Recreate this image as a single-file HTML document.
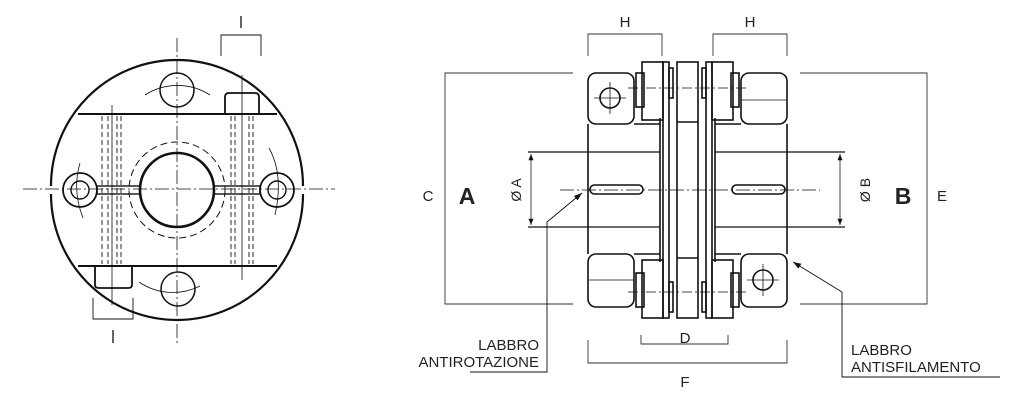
<!DOCTYPE html>
<html><head><style>
html,body{margin:0;padding:0;background:#fff;}
svg{display:block;}
text{font-family:"Liberation Sans",sans-serif;fill:#222;}
</style></head><body>
<svg width="1024" height="401" viewBox="0 0 1024 401" xmlns="http://www.w3.org/2000/svg">
<defs>
<marker id="ar" viewBox="0 0 10 10" refX="10" refY="5" markerWidth="7" markerHeight="7" orient="auto-start-reverse"><path d="M0,1 L10,5 L0,9 z" fill="#111"/></marker>
<marker id="ab" viewBox="0 0 10 10" refX="10" refY="5" markerWidth="9" markerHeight="9" orient="auto"><path d="M0,1.5 L10,5 L0,8.5 z" fill="#111"/></marker>
</defs>

<!-- LEFT VIEW -->
<g fill="none" stroke="#111">
 <line x1="177" y1="38" x2="177" y2="345" stroke-width="0.8" stroke-dasharray="14,3,2,3"/>
 <line x1="23" y1="189" x2="335" y2="189" stroke-width="0.8" stroke-dasharray="14,3,2,3"/>
 <path d="M51,186 A126,126 0 1 1 303,186 M51,194 A126,126 0 1 0 303,194" stroke-width="2.2"/>
 <line x1="78" y1="114" x2="277" y2="114" stroke-width="2"/>
 <line x1="78" y1="266" x2="277" y2="266" stroke-width="2"/>
 <circle cx="177" cy="190" r="37" stroke-width="2.6"/>
 <circle cx="177" cy="190" r="48" stroke-width="1" stroke-dasharray="7,4"/>
 <circle cx="177" cy="90" r="17" stroke-width="1.5"/>
 <circle cx="178" cy="289" r="17" stroke-width="1.5"/>
 <circle cx="80" cy="190" r="17" stroke-width="1.8"/>
 <circle cx="80" cy="190" r="9" stroke-width="1.4"/>
 <circle cx="277" cy="190" r="17" stroke-width="1.8"/>
 <circle cx="277" cy="190" r="9" stroke-width="1.4"/>
 <rect x="97" y="186" width="43" height="8" stroke-width="1.4"/>
 <rect x="214" y="186" width="46" height="8" stroke-width="1.4"/>
 <path d="M225,113 V97 Q225,93 229,93 H255 Q259,93 259,97 V113" stroke-width="1.8"/>
 <path d="M95,267 V285 Q95,288 99,288 H128 Q132,288 132,285 V267" stroke-width="1.8"/>
 <g stroke-width="0.9" stroke-dasharray="5,3">
  <line x1="102" y1="116" x2="102" y2="264"/><line x1="108" y1="116" x2="108" y2="264"/>
  <line x1="117" y1="116" x2="117" y2="264"/><line x1="121" y1="116" x2="121" y2="264"/>
  <line x1="231" y1="116" x2="231" y2="264"/><line x1="235" y1="116" x2="235" y2="264"/>
  <line x1="249" y1="116" x2="249" y2="264"/><line x1="253" y1="116" x2="253" y2="264"/>
 </g>
 <line x1="242" y1="75" x2="242" y2="280" stroke-width="0.8"/>
 <line x1="112" y1="105" x2="112" y2="305" stroke-width="0.8"/>
 <path d="M145,95 A60,60 0 0 1 210,95 M139,282 A60,60 0 0 0 200,286 M80,163 Q72,190 83,218 M269,148 Q284,175 275,215" stroke-width="0.8"/>
 <path d="M221,56 V35 H261 V56 M93,298 V319 H133 V298" stroke-width="0.9"/>
 <line x1="241" y1="16" x2="241" y2="28" stroke-width="1.3"/>
 <line x1="113" y1="330" x2="113" y2="343" stroke-width="1.3"/>
</g>

<!-- RIGHT VIEW: dimensions -->
<g fill="none" stroke="#333" stroke-width="0.9">
 <path d="M588,56 V34 H662 V56 M713,56 V34 H787 V56"/>
 <path d="M573,73 H445 V304 H573"/>
 <path d="M800,73 H927 V304 H800"/>
 <path d="M641,335 V344 H728 V335"/>
 <path d="M588,340 V363 H787 V340"/>
 <line x1="531" y1="154" x2="531" y2="225" marker-start="url(#ar)" marker-end="url(#ar)"/>
 <line x1="840" y1="154" x2="840" y2="225" marker-start="url(#ar)" marker-end="url(#ar)"/>
 <path d="M470,372 H547 V222 L582,193" stroke="#111" marker-end="url(#ab)"/>
 <path d="M1000,377 H842 V292 L793,262" stroke="#111" marker-end="url(#ab)"/>
</g>
<g fill="none" stroke="#111" stroke-width="1.2">
 <line x1="528" y1="152" x2="660" y2="152"/>
 <line x1="528" y1="227" x2="660" y2="227"/>
 <line x1="715" y1="152" x2="845" y2="152"/>
 <line x1="715" y1="227" x2="845" y2="227"/>
 <line x1="560" y1="190" x2="820" y2="190" stroke-width="0.7" stroke-dasharray="14,3,2,3"/>
</g>

<g fill="none" stroke="#111" stroke-width="1.6">
 <rect x="588" y="73" width="46" height="51" rx="8"/>
 <rect x="588" y="254" width="46" height="53" rx="8"/>
 <line x1="588" y1="124" x2="588" y2="254"/>
 <line x1="660" y1="118" x2="660" y2="262"/>
 <line x1="634" y1="124" x2="660" y2="124"/>
 <line x1="634" y1="254" x2="660" y2="254"/>
 <rect x="642" y="62" width="21" height="58"/>
 <rect x="642" y="260" width="21" height="58"/>
 <rect x="636" y="73" width="8" height="34"/>
 <rect x="636" y="273" width="8" height="34"/>
 <rect x="663" y="62" width="6" height="256"/>
 <rect x="669" y="68" width="4" height="30"/>
 <rect x="669" y="282" width="4" height="30"/>
 <rect x="590" y="185" width="53" height="9" rx="4.5"/>
 <circle cx="610" cy="98" r="10"/>
 <rect x="677" y="62" width="21" height="256"/>
 <line x1="677" y1="122" x2="698" y2="122"/>
 <line x1="677" y1="258" x2="698" y2="258"/>
 <rect x="741" y="73" width="46" height="51" rx="8"/>
 <rect x="741" y="254" width="46" height="53" rx="8"/>
 <line x1="787" y1="124" x2="787" y2="254"/>
 <line x1="715" y1="118" x2="715" y2="262"/>
 <line x1="715" y1="124" x2="741" y2="124"/>
 <line x1="715" y1="254" x2="741" y2="254"/>
 <rect x="712" y="62" width="21" height="58"/>
 <rect x="712" y="260" width="21" height="58"/>
 <rect x="731" y="73" width="8" height="34"/>
 <rect x="731" y="273" width="8" height="34"/>
 <rect x="706" y="62" width="6" height="256"/>
 <rect x="702" y="68" width="4" height="30"/>
 <rect x="702" y="282" width="4" height="30"/>
 <rect x="732" y="185" width="53" height="9" rx="4.5"/>
 <circle cx="763" cy="280" r="10"/>
</g>
<g stroke="#111" stroke-width="0.8" fill="none">
 <line x1="610" y1="82" x2="610" y2="114"/><line x1="594" y1="98" x2="626" y2="98"/>
 <line x1="763" y1="264" x2="763" y2="296"/><line x1="747" y1="280" x2="779" y2="280"/>
 <line x1="628" y1="88" x2="748" y2="88" stroke-dasharray="10,3,2,3"/>
 <line x1="628" y1="292" x2="748" y2="292" stroke-dasharray="10,3,2,3"/>
 <line x1="588" y1="280" x2="634" y2="280"/>
 <line x1="741" y1="100" x2="787" y2="100"/>
</g>

<text x="625" y="27" font-size="15" text-anchor="middle">H</text>
<text x="750" y="27" font-size="15" text-anchor="middle">H</text>
<text x="428" y="201" font-size="15" text-anchor="middle">C</text>
<text x="467" y="204" font-size="23" font-weight="bold" text-anchor="middle">A</text>
<text x="903" y="204" font-size="23" font-weight="bold" text-anchor="middle">B</text>
<text x="942" y="201" font-size="15" text-anchor="middle">E</text>
<text font-size="14" text-anchor="middle" transform="translate(521,190) rotate(-90)">Ø A</text>
<text font-size="14" text-anchor="middle" transform="translate(870,190) rotate(-90)">Ø B</text>
<text x="685" y="343" font-size="15" text-anchor="middle">D</text>
<text x="685" y="387" font-size="15" text-anchor="middle">F</text>
<text x="539" y="350" font-size="15" text-anchor="end">LABBRO</text>
<text x="539" y="367" font-size="15" text-anchor="end">ANTIROTAZIONE</text>
<text x="851" y="355" font-size="15">LABBRO</text>
<text x="851" y="372" font-size="15">ANTISFILAMENTO</text>
</svg>
</body></html>
